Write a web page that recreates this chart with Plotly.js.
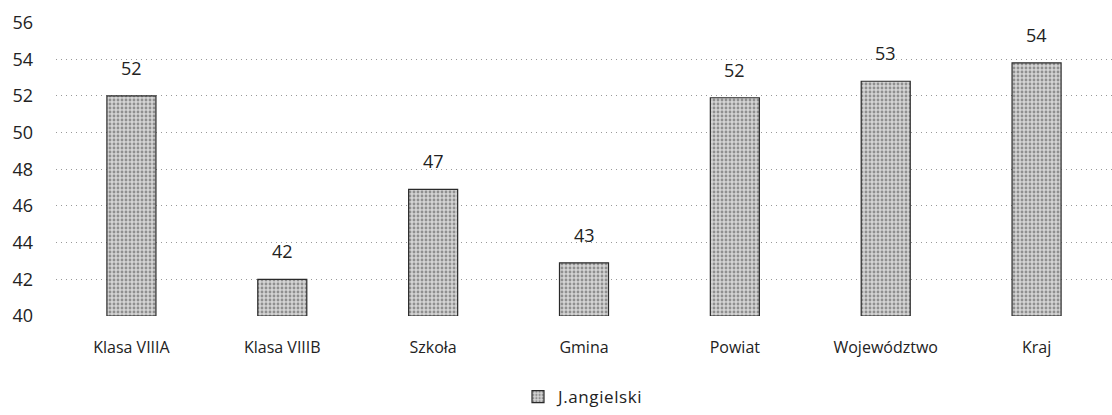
<!DOCTYPE html>
<html>
<head>
<meta charset="utf-8">
<script src="https://cdn.plot.ly/plotly-3.0.1.min.js"></script>
<style>html,body{margin:0;padding:0;background:#fff;}#chart{width:1112px;height:415px;}
.legendtext{letter-spacing:0.6px;}
</style>
</head>
<body>
<div id="chart"></div>
<script>
const categories = ["Klasa VIIIA", "Klasa VIIIB", "Szkoła", "Gmina", "Powiat", "Województwo", "Kraj"];
const values = [52.0, 42.0, 46.9, 42.9, 51.9, 52.8, 53.8];
const labels = ["52", "42", "47", "43", "52", "53", "54"];
const seriesName = "J.angielski";
const yTicks = [40, 42, 44, 46, 48, 50, 52, 54, 56];
const baseValue = 40;

const font = "Open Sans, Noto Sans, sans-serif";

const trace = {
  type: "bar",
  x: categories,
  y: values.map(v => v - baseValue),
  base: baseValue,
  name: seriesName,
  hoverinfo: "skip",
  marker: {
    color: "#c4c4c4",
    line: {color: "#2a2a2a", width: 1.2},
    pattern: {shape: ".", fgcolor: "#4a4a4a", bgcolor: "#d4d4d4", size: 4, solidity: 0.4, fillmode: "overlay"}
  },
  showlegend: true
};

const annotations = categories.map((c, i) => ({
  x: c, y: values[i], xref: "x", yref: "y",
  text: labels[i], showarrow: false, yanchor: "bottom", yshift: 14,
  font: {family: font, size: 18, color: "#222"}
}));

const layout = {
  width: 1112, height: 415,
  margin: {l: 56, r: 0, t: 22, b: 97},
  paper_bgcolor: "#fff", plot_bgcolor: "#fff",
  bargap: 0.675,
  showlegend: true,
  annotations: annotations,
  legend: {orientation: "h", x: 0.5, xanchor: "center", y: -0.277, yanchor: "middle",
           itemwidth: 30, font: {family: font, size: 17, color: "#222"}},
  xaxis: {
    showgrid: false, showline: false, zeroline: false,
    ticks: "", ticklabelstandoff: 20,
    tickfont: {family: font, size: 16, color: "#222"}
  },
  yaxis: {
    range: [40, 56.03], tickvals: yTicks, ticktext: yTicks.map(String),
    showgrid: true, gridcolor: "#999", griddash: "1px,4px", gridwidth: 1,
    zeroline: false, showline: false, ticks: "", ticklabelstandoff: 22,
    tickfont: {family: font, size: 18, color: "#222"}
  }
};
Plotly.newPlot("chart", [trace], layout, {displayModeBar: false});
</script>
</body>
</html>
